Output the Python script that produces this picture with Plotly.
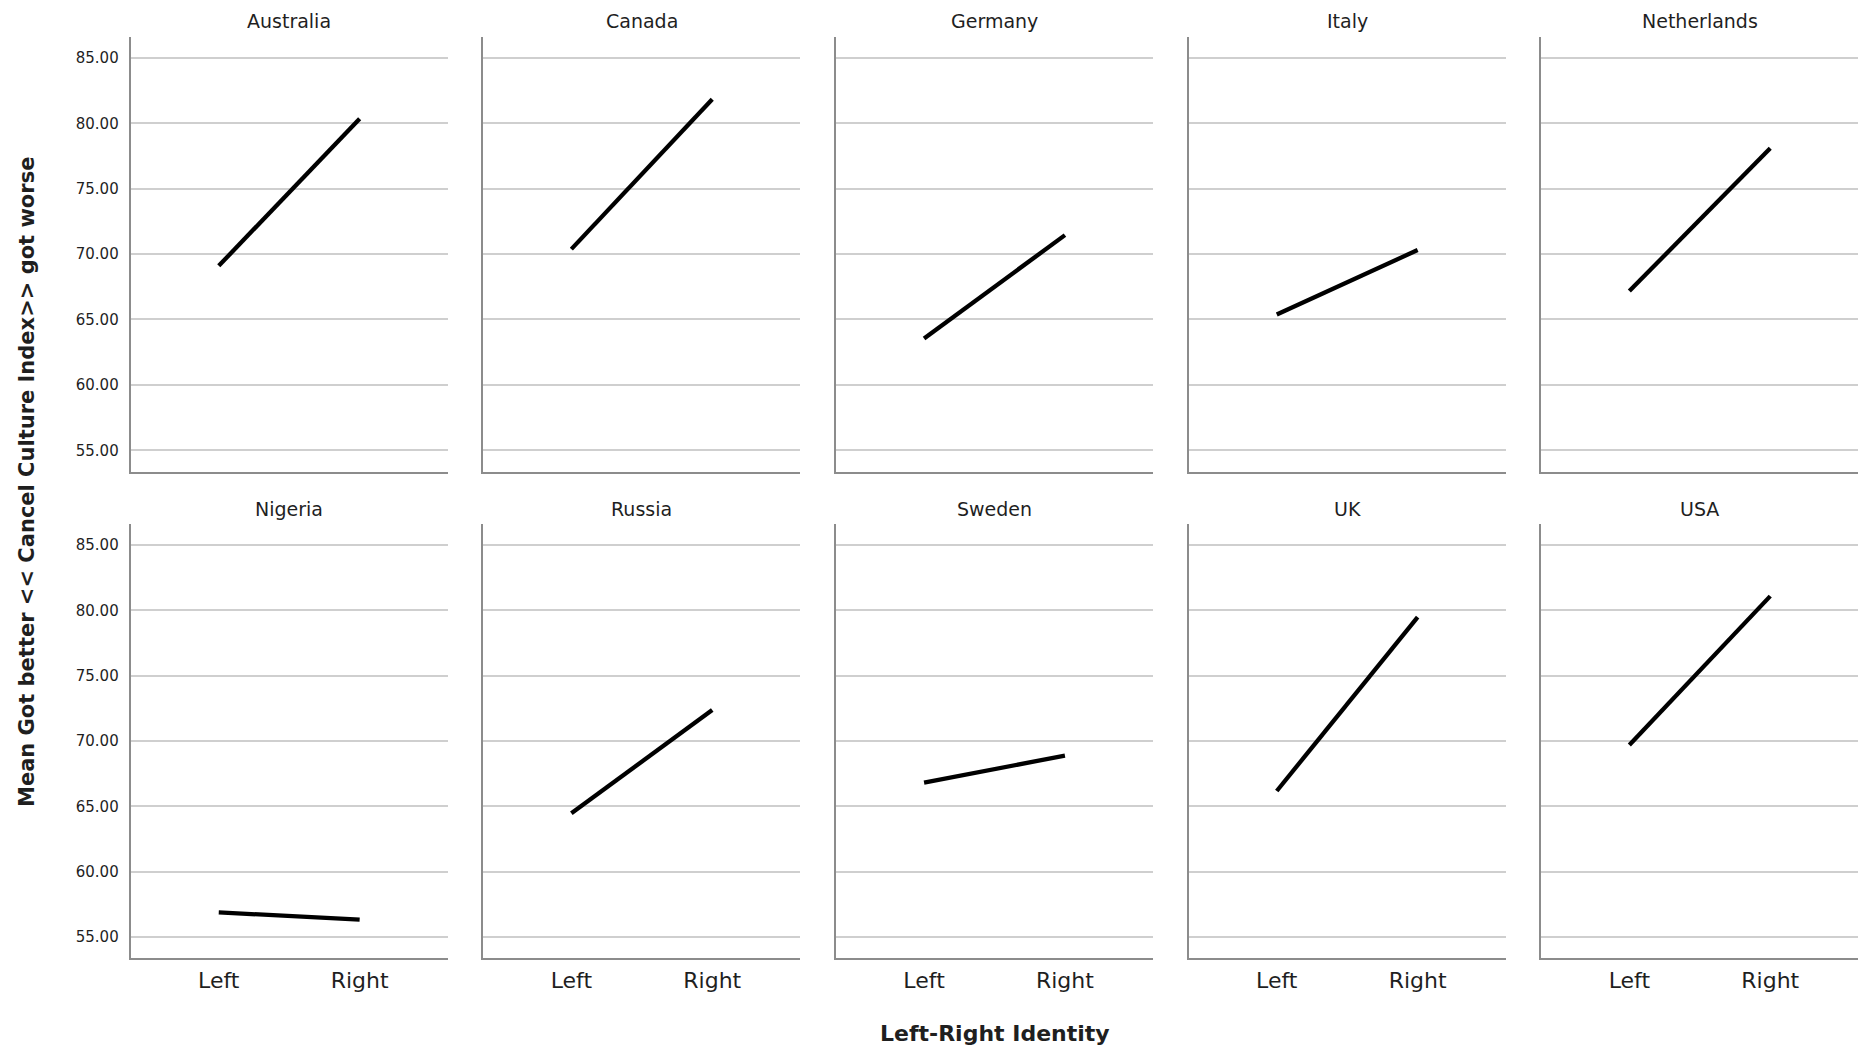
import plotly.graph_objects as go

# Mean index by left-right identity, one panel per country
countries = ["Australia", "Canada", "Germany", "Italy", "Netherlands",
             "Nigeria", "Russia", "Sweden", "UK", "USA"]
identity = ["Left", "Right"]
left_means = [69.10, 70.38, 63.55, 65.38, 67.17, 56.88, 64.46, 66.81, 66.17, 69.69]
right_means = [80.35, 81.84, 71.45, 70.31, 78.09, 56.33, 72.37, 68.88, 79.47, 81.08]
y_ticks = [55, 60, 65, 70, 75, 80, 85]

W, H = 1862, 1049
FONT = "DejaVu Sans"
TXT = "#1f1f1f"

# panel geometry in pixels
col_x0 = [130.7, 483.3, 836.0, 1188.7, 1541.3]
panel_w = 317.0
row_y = [(37.0, 471.7), (524.0, 958.4)]  # (top, bottom)

fig = go.Figure()
layout = {}
annotations = []

for i, name in enumerate(countries):
    r, c = divmod(i, 5)
    n = i + 1
    xa = "x" if n == 1 else f"x{n}"
    ya = "y" if n == 1 else f"y{n}"
    fig.add_trace(go.Scatter(
        x=identity, y=[left_means[i], right_means[i]],
        mode="lines", line=dict(color="black", width=4.3),
        xaxis=xa, yaxis=ya, showlegend=False, hoverinfo="x+y",
    ))
    x0 = col_x0[c] / W
    x1 = (col_x0[c] + panel_w) / W
    top, bot = row_y[r]
    layout[f"xaxis{'' if n == 1 else n}"] = dict(
        domain=[x0, x1], anchor=ya, type="category",
        categoryorder="array", categoryarray=identity,
        range=[-0.625, 1.625], showgrid=False, zeroline=False,
        showline=True, linecolor="#8c8c8c", linewidth=2,
        ticks="", showticklabels=(r == 1),
        tickfont=dict(family=FONT, size=22, color=TXT),
        ticklabelstandoff=1, fixedrange=True,
    )
    layout[f"yaxis{'' if n == 1 else n}"] = dict(
        domain=[1 - bot / H, 1 - top / H], anchor=xa,
        range=[53.36, 86.6], tickvals=y_ticks,
        ticktext=[f"{v:.2f}" for v in y_ticks],
        showgrid=True, gridcolor="#cfcfcf", gridwidth=1.5,
        zeroline=False, showline=True, linecolor="#8c8c8c", linewidth=2,
        ticks="", showticklabels=(c == 0),
        tickfont=dict(family=FONT, size=15, color=TXT),
        ticklabelstandoff=7, fixedrange=True,
    )
    title_y = 21 if r == 0 else 509
    annotations.append(dict(
        text=name, x=(col_x0[c] + panel_w / 2) / W, y=1 - title_y / H,
        xref="paper", yref="paper", showarrow=False,
        xanchor="center", yanchor="middle",
        font=dict(family=FONT, size=19, color=TXT),
    ))

annotations.append(dict(
    text="<b>Mean Got better << Cancel Culture Index>> got worse</b>",
    x=27 / W, y=1 - 482 / H, xref="paper", yref="paper",
    showarrow=False, textangle=-90, xanchor="center", yanchor="middle",
    font=dict(family=FONT, size=21, color=TXT),
))
annotations.append(dict(
    text="<b>Left-Right Identity</b>",
    x=995 / W, y=1 - 1033 / H, xref="paper", yref="paper",
    showarrow=False, xanchor="center", yanchor="middle",
    font=dict(family=FONT, size=22, color=TXT),
))

fig.update_layout(
    width=W, height=H, margin=dict(l=0, r=0, t=0, b=0),
    paper_bgcolor="white", plot_bgcolor="white",
    annotations=annotations, **layout,
)

fig.write_html("out.html", config={"displayModeBar": False})
